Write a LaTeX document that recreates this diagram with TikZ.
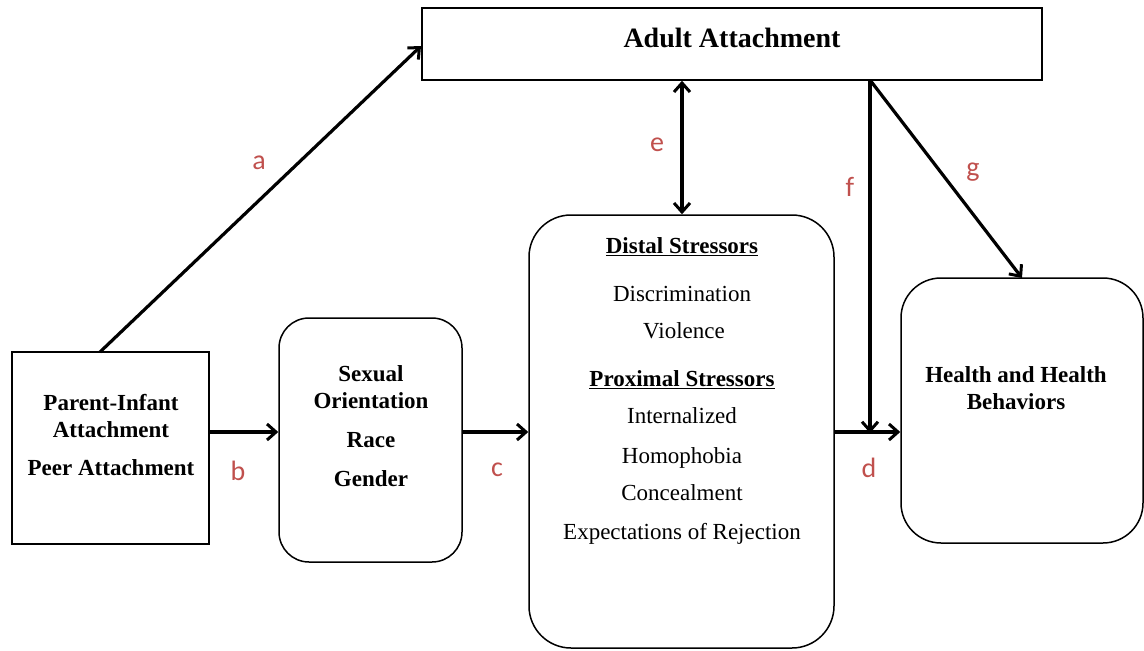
\documentclass[tikz,border=0pt]{standalone}
\usepackage{fontspec}
\setmainfont{Liberation Serif}
\newfontfamily\labfont{Carlito}
\usetikzlibrary{arrows.meta}
\definecolor{labred}{HTML}{C0504D}
\begin{document}
\begin{tikzpicture}[x=1pt,y=-1pt,
  box/.style={draw=black,line width=1.5pt,inner sep=0pt},
  rbox/.style={box,rounded corners=#1},
  txt/.style={inner sep=0pt,text height=0.68em,text depth=0.2em,yshift=-6pt,font=\fontsize{23}{26}\selectfont},
  btxt/.style={txt,font=\fontsize{23}{26}\selectfont\bfseries},
  lab/.style={inner sep=0pt,text=labred,font=\labfont\fontsize{28}{30}\selectfont},
  arr/.style={line width=3.2pt,-{Straight Barb[length=9pt,width=16pt,line width=3pt]}},
  darr/.style={line width=3.2pt,{Straight Barb[length=9pt,width=16pt,line width=3pt]}-{Straight Barb[length=9pt,width=16pt,line width=3pt]}}]
\useasboundingbox (0,0) rectangle (1144,651);
% boxes
\node[box,minimum width=620pt,minimum height=72pt] (adult) at (732,44) {};
\node[box,minimum width=197pt,minimum height=192pt] (parent) at (110.5,448) {};
\node[rbox=30pt,minimum width=183pt,minimum height=244pt] (sex) at (370.5,440) {};
\node[rbox=42pt,minimum width=305pt,minimum height=433pt] (stress) at (681.5,431.5) {};
\node[rbox=40pt,minimum width=242pt,minimum height=265pt] (health) at (1022,410.5) {};
% texts
\node[btxt,font=\fontsize{28}{30}\selectfont\bfseries] (tadult) at (732,39) {Adult Attachment};
\node[btxt] (t1) at (111,402) {Parent-Infant};
\node[btxt] (t2) at (111,429) {Attachment};
\node[btxt] (t3) at (111,467) {Peer Attachment};
\node[btxt] (s1) at (371,373) {Sexual};
\node[btxt] (s2) at (371,400) {Orientation};
\node[btxt] (s3) at (371,439) {Race};
\node[btxt] (s4) at (371,478) {Gender};
\node[btxt] (d1) at (682,245) {\underline{Distal Stressors}};
\node[txt] (d2) at (682,293) {Discrimination};
\node[txt] (d3) at (684,330) {Violence};
\node[btxt] (d4) at (682,378) {\underline{Proximal Stressors}};
\node[txt] (d5) at (682,415) {Internalized};
\node[txt] (d6) at (682,455) {Homophobia};
\node[txt] (d7) at (682,492) {Concealment};
\node[txt] (d8) at (682,531) {Expectations of Rejection};
\node[btxt] (h1) at (1016,374) {Health and Health};
\node[btxt] (h2) at (1016,401) {Behaviors};
% connectors
\coordinate (pa) at (100,352);
\coordinate (aa) at (421,46);
\draw[arr] (pa) -- (aa);
\draw[arr] (parent.east |- 0,432) -- (sex.west |- 0,432);
\draw[arr] (sex.east |- 0,432) -- (stress.west |- 0,432);
\draw[arr] (stress.east |- 0,432) -- (health.west |- 0,432);
\draw[darr] (adult.south -| 682,0) -- (stress.north -| 682,0);
\coordinate (fs) at (870,80);
\coordinate (fe) at (870,433);
\coordinate (ge) at (1022,278);
\draw[arr] (fs) -- (fe);
\draw[arr] (fs) -- (ge);
% labels
\node[lab] (la) at (259,163) {a};
\node[lab] (lb) at (238,471) {b};
\node[lab] (lc) at (497,470) {c};
\node[lab] (ld) at (869,468) {d};
\node[lab] (le) at (657,145) {e};
\node[lab] (lf) at (850,187) {f};
\node[lab] (lg) at (973,172) {g};
\end{tikzpicture}
\end{document}
